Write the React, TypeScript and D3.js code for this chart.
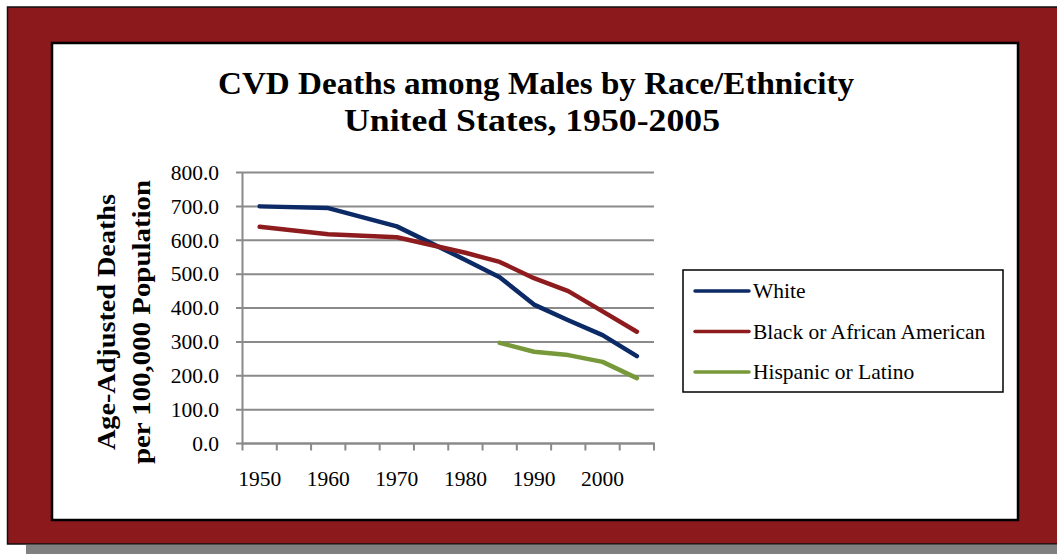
import React from "react";
import * as d3 from "d3";

// categories on the x axis (every 5 years, labels shown every 10)
const years = ["1950", "1955", "1960", "1965", "1970", "1975", "1980", "1985", "1990", "1995", "2000", "2005"];
const tickYears = ["1950", "1960", "1970", "1980", "1990", "2000"];
const yTicks = [0, 100, 200, 300, 400, 500, 600, 700, 800];

// age-adjusted deaths per 100,000 (null = no data that year)
const white = [700, null, 695, null, 641, null, 542, 491, 410, 364, 320, 258];
const black = [640, null, 618, null, 609, null, 563, 536, 488, 450, 390, 330];
const hispanic = [null, null, null, null, null, null, null, 297, 271, 261, 241, 193];

const seriesNames = ["White", "Black or African American", "Hispanic or Latino"];
const seriesColors = ["#0b2a66", "#8e1c1f", "#77993a"];

const W = 1057;
const H = 554;
const FONT = "'Liberation Serif', 'Times New Roman', serif";

export default function App() {
  const x = d3.scaleBand().domain(years).range([242.5, 654]);
  const y = d3.scaleLinear().domain([0, 800]).range([443.5, 172.5]);
  const cx = (yr: string) => (x(yr) as number) + x.bandwidth() / 2;

  // only defined points, so the gaps are bridged like in the original
  const pathFor = (vals: (number | null)[]) => {
    const pts = vals
      .map((v, i) => ({ v, i }))
      .filter((p) => p.v != null)
      .map((p) => [cx(years[p.i]), y(p.v as number)] as [number, number]);
    return d3.line()(pts) || "";
  };

  const data = [white, black, hispanic];
  const [x0, x1] = x.range();
  const boundaries = years.map((yr) => x(yr) as number).concat([x1]);

  return (
    <svg width={W} height={H} style={{ position: "absolute", left: 0, top: 0 }} fontFamily={FONT}>
      {/* shadow + red frame */}
      <rect x={26} y={545} width={W} height={12} fill="#808080" />
      <rect x={7.5} y={7} width={W + 10} height={537} fill="#8c191c" stroke="#111" strokeWidth={1.5} />
      <rect x={52} y={43} width={966} height={477} fill="#fff" stroke="#000" strokeWidth={2.5} />

      {/* title */}
      <text x={536} y={94} textAnchor="middle" fontSize={32} fontWeight="bold" textLength={636} lengthAdjust="spacingAndGlyphs">
        CVD Deaths among Males by Race/Ethnicity
      </text>
      <text x={532} y={131} textAnchor="middle" fontSize={32} fontWeight="bold" textLength={376} lengthAdjust="spacingAndGlyphs">
        United States, 1950-2005
      </text>

      {/* y axis title */}
      <g transform="translate(0,322) rotate(-90)" fontSize={25} fontWeight="bold" textAnchor="middle">
        <text x={0} y={115} textLength={256} lengthAdjust="spacingAndGlyphs">Age-Adjusted Deaths</text>
        <text x={0} y={150} textLength={284} lengthAdjust="spacingAndGlyphs">per 100,000 Population</text>
      </g>

      {/* gridlines + y ticks */}
      {yTicks.map((t) => (
        <g key={t}>
          <line x1={236} x2={x1} y1={y(t)} y2={y(t)} stroke="#8a8a8a" strokeWidth={2} />
          <text x={219} y={y(t)} dy="0.34em" textAnchor="end" fontSize={21.5}>
            {t.toFixed(1)}
          </text>
        </g>
      ))}

      {/* axes */}
      <line x1={x0} x2={x0} y1={y(800)} y2={y(0) + 1} stroke="#8a8a8a" strokeWidth={2} />
      <line x1={x0 - 1} x2={x1 + 1} y1={y(0)} y2={y(0)} stroke="#8a8a8a" strokeWidth={2} />
      {boundaries.map((b, i) => (
        <line key={i} x1={b} x2={b} y1={y(0)} y2={y(0) + 7} stroke="#8a8a8a" strokeWidth={2} />
      ))}
      {tickYears.map((yr) => (
        <text key={yr} x={cx(yr)} y={486} textAnchor="middle" fontSize={21.5}>
          {yr}
        </text>
      ))}

      {/* series */}
      {data.map((vals, i) => (
        <path
          key={seriesNames[i]}
          d={pathFor(vals)}
          fill="none"
          stroke={seriesColors[i]}
          strokeWidth={4.5}
          strokeLinejoin="round"
          strokeLinecap="round"
        />
      ))}

      {/* legend */}
      <rect x={683} y={270} width={320} height={122} fill="#fff" stroke="#000" strokeWidth={1.5} />
      {seriesNames.map((name, i) => {
        const ly = 291 + i * 40.5;
        return (
          <g key={name}>
            <line x1={695} x2={749} y1={ly} y2={ly} stroke={seriesColors[i]} strokeWidth={3.5} strokeLinecap="round" />
            <text x={753} y={ly} dy="0.34em" fontSize={21.5}>
              {name}
            </text>
          </g>
        );
      })}
    </svg>
  );
}
